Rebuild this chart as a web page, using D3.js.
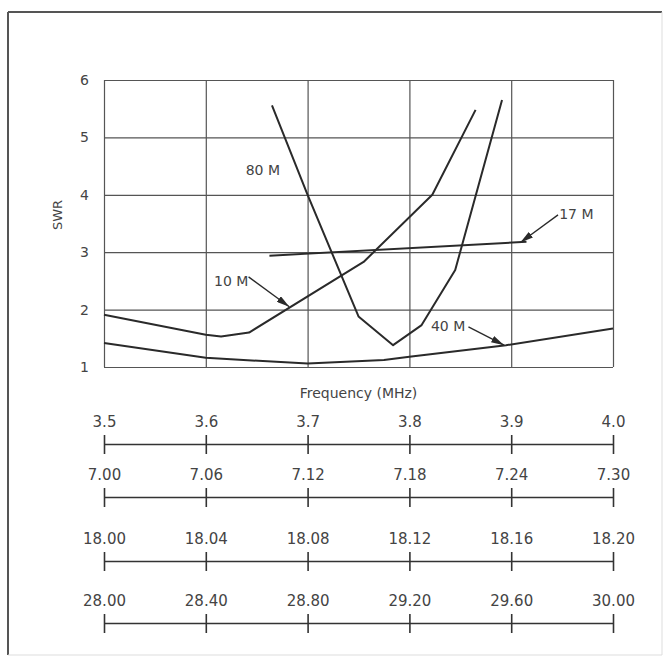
<!DOCTYPE html>
<html>
<head>
<meta charset="utf-8">
<script src="https://cdn.jsdelivr.net/npm/d3@7"></script>
<style>
body { margin: 0; background: #fff; }
text { font-family: "DejaVu Sans", sans-serif; fill: #444; }
</style>
</head>
<body>
<div id="ChartDiv"></div>
<script>

// tick labels of the four frequency rulers
var labels80 = ['3.5', '3.6', '3.7', '3.8', '3.9', '4.0'];
var labels40 = ['7.00', '7.06', '7.12', '7.18', '7.24', '7.30'];
var labels17 = ['18.00', '18.04', '18.08', '18.12', '18.16', '18.20'];
var labels10 = ['28.00', '28.40', '28.80', '29.20', '29.60', '30.00'];
var swrTicks = [1, 2, 3, 4, 5, 6];

// curves (frequency in each band's MHz, SWR)
var freq80 = [3.665, 3.70, 3.75, 3.784, 3.812, 3.845, 3.891];
var swr80  = [5.56, 4.0, 1.88, 1.38, 1.73, 2.69, 5.65];
var freq40 = [7.00, 7.06, 7.12, 7.165, 7.18, 7.237, 7.30];
var swr40  = [1.42, 1.16, 1.06, 1.12, 1.18, 1.38, 1.67];
var freq17 = [18.065, 18.166];
var swr17  = [2.94, 3.18];
var freq10 = [28.00, 28.40, 28.46, 28.57, 29.02, 29.29, 29.46];
var swr10  = [1.91, 1.56, 1.53, 1.60, 2.83, 4.0, 5.48];

// band labels: grid column position (0..5) and SWR
var bandNames = ['80 M', '10 M', '17 M', '40 M'];
var nameCol = [1.56, 1.25, 4.64, 3.38];
var nameSwr = [4.44, 2.50, 3.67, 1.71];
var arrowFrom = [null, [1.42, 2.57], [4.46, 3.65], [3.58, 1.70]];
var arrowTo   = [null, [1.82, 2.05], [4.09, 3.17], [3.93, 1.38]];

var wd = 665, ht = 657;
var plotL = 104, plotR = 613, plotT = 80, plotB = 367;

var svg = d3.select('#ChartDiv')
	.append('svg')
	.attr('width', wd)
	.attr('height', ht);

svg.append('defs').append('marker')
	.attr('id', 'head')
	.attr('viewBox', '0 0 13 7')
	.attr('refX', 13)
	.attr('refY', 3.5)
	.attr('markerUnits', 'userSpaceOnUse')
	.attr('markerWidth', 13)
	.attr('markerHeight', 7)
	.attr('orient', 'auto')
	.append('path')
	.attr('d', 'M0,0 L13,3.5 L0,7 z')
	.attr('fill', '#2a2a2a');

// outer frame
svg.append('line').attr('x1', 8).attr('y1', 12).attr('x2', 662).attr('y2', 12)
	.attr('stroke', '#555').attr('stroke-width', 2);
svg.append('line').attr('x1', 8).attr('y1', 12).attr('x2', 8).attr('y2', 655)
	.attr('stroke', '#555').attr('stroke-width', 2);
svg.append('line').attr('x1', 662).attr('y1', 12).attr('x2', 662).attr('y2', 655)
	.attr('stroke', '#ddd').attr('stroke-width', 1);
svg.append('line').attr('x1', 8).attr('y1', 655).attr('x2', 662).attr('y2', 655)
	.attr('stroke', '#ddd').attr('stroke-width', 1);

var x80 = d3.scaleLinear().domain([3.5, 4.0]).range([plotL, plotR]);
var x40 = d3.scaleLinear().domain([7.00, 7.30]).range([plotL, plotR]);
var x17 = d3.scaleLinear().domain([18.00, 18.20]).range([plotL, plotR]);
var x10 = d3.scaleLinear().domain([28.00, 30.00]).range([plotL, plotR]);
var xCol = d3.scaleLinear().domain([0, 5]).range([plotL, plotR]);
var y = d3.scaleLinear().domain([1, 6]).range([plotB, plotT]);

// horizontal grid + SWR labels
var gy = svg.append('g')
	.attr('transform', 'translate(' + plotL + ',0)')
	.call(d3.axisLeft(y).tickValues(swrTicks).tickSize(-(plotR - plotL)).tickPadding(15).tickFormat(d3.format('d')));
gy.select('.domain').remove();
gy.selectAll('line').attr('stroke', '#555').attr('stroke-width', 1.2);
gy.selectAll('text').attr('font-size', 14).attr('font-family', 'DejaVu Sans').attr('fill', '#444');

// vertical grid
var gx = svg.append('g')
	.attr('transform', 'translate(0,' + plotB + ')')
	.call(d3.axisBottom(x80).tickValues(labels80.map(Number)).tickSize(-(plotB - plotT)).tickFormat(''));
gx.select('.domain').remove();
gx.selectAll('line').attr('stroke', '#555').attr('stroke-width', 1.2);

svg.append('text')
	.attr('transform', 'translate(62,215) rotate(-90)')
	.attr('text-anchor', 'middle')
	.attr('font-size', 13)
	.text('SWR');

svg.append('text')
	.attr('x', (plotL + plotR) / 2)
	.attr('y', 398)
	.attr('text-anchor', 'middle')
	.attr('font-size', 14)
	.text('Frequency (MHz)');

// curves
var line = d3.line();
function curve(fr, sw, sc) {
	svg.append('path')
		.attr('d', line(fr.map(function (f, i) { return [sc(f), y(sw[i])]; })))
		.attr('fill', 'none')
		.attr('stroke', '#2a2a2a')
		.attr('stroke-width', 2)
		.attr('stroke-linejoin', 'round');
}
curve(freq40, swr40, x40);
curve(freq10, swr10, x10);
curve(freq17, swr17, x17);
curve(freq80, swr80, x80);

// band labels and arrows
bandNames.forEach(function (name, i) {
	svg.append('text')
		.attr('x', xCol(nameCol[i]))
		.attr('y', y(nameSwr[i]) + 5)
		.attr('text-anchor', 'middle')
		.attr('font-size', 14)
		.text(name);
	if (arrowFrom[i]) {
		svg.append('line')
			.attr('x1', xCol(arrowFrom[i][0]))
			.attr('y1', y(arrowFrom[i][1]))
			.attr('x2', xCol(arrowTo[i][0]))
			.attr('y2', y(arrowTo[i][1]))
			.attr('stroke', '#2a2a2a')
			.attr('stroke-width', 1.3)
			.attr('marker-end', 'url(#head)');
	}
});

// frequency rulers
var rulers = [[labels80, x80], [labels40, x40], [labels17, x17], [labels10, x10]];
var rulerY = [444, 497, 561, 623];
rulers.forEach(function (r, i) {
	var g = svg.append('g')
		.attr('transform', 'translate(0,' + rulerY[i] + ')')
		.call(d3.axisTop(r[1]).tickValues(r[0].map(Number)).tickSize(9).tickSizeOuter(0).tickPadding(8)
			.tickFormat(function (d, k) { return r[0][k]; }));
	g.select('.domain').attr('stroke', '#333').attr('stroke-width', 1.6);
	g.selectAll('.tick line').attr('y1', 10).attr('stroke', '#333').attr('stroke-width', 1.6);
	g.selectAll('text').attr('font-size', 15).attr('font-family', 'DejaVu Sans').attr('fill', '#444');
});

</script>
</body>
</html>
